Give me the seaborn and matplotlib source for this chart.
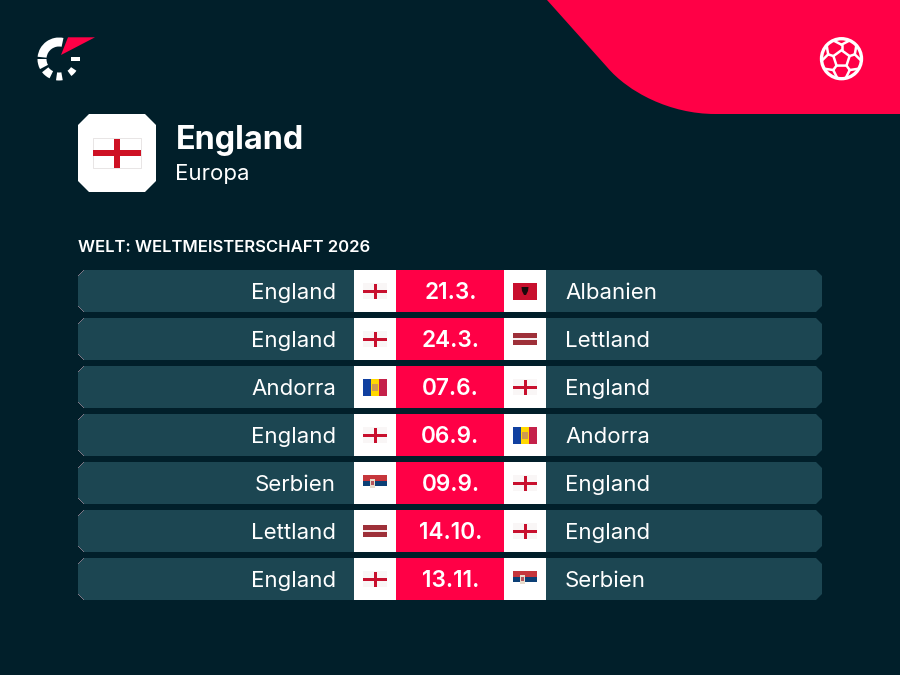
"""England - WM-Quali 2026 Spielplan"""
import numpy as np
import pandas as pd
import matplotlib
matplotlib.use("Agg")
import matplotlib.pyplot as plt
import seaborn as sns
from matplotlib.patches import Circle, Path, PathPatch, Polygon, Rectangle, Wedge

# data
home_teams = ["England", "England", "Andorra", "England", "Serbien", "Lettland", "England"]
away_teams = ["Albanien", "Lettland", "England", "Andorra", "England", "England", "Serbien"]
match_dates = ["21.3.", "24.3.", "07.6.", "06.9.", "09.9.", "14.10.", "13.11."]
home_flags = ["eng", "eng", "and", "eng", "srb", "lva", "eng"]
away_flags = ["alb", "lva", "eng", "and", "eng", "eng", "srb"]
team_name = "England"
team_region = "Europa"
competition = "WELT: WELTMEISTERSCHAFT 2026"

BG = "#011F2A"
ROW = "#1C4652"
RED = "#FF0046"
WHITE = "#FFFFFF"
FONT = "Inter"

sns.set_theme(style="white")
plt.rcParams["font.family"] = [FONT, "DejaVu Sans"]

W, H = 900, 675
fig = plt.figure(figsize=(9, 6.75), dpi=100, facecolor=BG)

# table axes: x in pixels, y in row categories
TOP, PITCH = 267, 48
n = len(match_dates)
tb = fig.add_axes([78 / W, 1 - (TOP + PITCH * n) / H, (822 - 78) / W, PITCH * n / H])
df = pd.DataFrame({"date": match_dates, "home": home_teams, "away": away_teams})
BAR = 42 / PITCH
for edge, col in [(822, ROW), (546, WHITE), (504, RED), (396, WHITE), (354, ROW)]:
    sns.barplot(data=df.assign(edge=edge), x="edge", y="date", order=match_dates, orient="h",
                color=col, saturation=1, width=BAR, linewidth=0, errorbar=None, ax=tb)
tb.set_xlim(78, 822)
tb.set_ylim(n - 0.5, -0.5)
tb.axis("off")

# chamfered row corners
C = 6
for i in range(n):
    top, bot = i - BAR / 2, i + BAR / 2
    cy = C / PITCH
    shape = Polygon([(78 + C, top), (822 - C, top), (822, top + cy), (822, bot - cy),
                     (822 - C, bot), (78 + C, bot), (78, bot - cy), (78, top + cy)],
                    transform=tb.transData)
    for bar in tb.patches[i::n]:
        bar.set_clip_path(shape)

for i, row in df.iterrows():
    tb.text(336, i + 0.05, row["home"], color=WHITE, fontsize=16, ha="right", va="center")
    tb.text(565, i + 0.05, row["away"], color=WHITE, fontsize=16, ha="left", va="center")
    tb.text(450.5, i + 0.05, row["date"], color=WHITE, fontsize=16.3, fontweight="semibold", ha="center", va="center")

# overlay in pixel coordinates
ax = fig.add_axes([0, 0, 1, 1], facecolor="none")
ax.set_xlim(0, W)
ax.set_ylim(H, 0)
ax.axis("off")
ax.set_zorder(3)


def rect(x, y, w, h, col, **kw):
    ax.add_patch(Rectangle((x, y), w, h, facecolor=col, edgecolor="none", **kw))


def draw_flag(kind, cx, cy):
    x, y = cx - 12, cy - 8.5
    if kind == "eng":
        rect(x, y + 0.5, 24, 16, "#F9F6F6")
        rect(x, cy - 1.5, 24, 3, "#C8102E")
        rect(cx - 1.5, y + 1, 3, 15, "#C8102E")
    elif kind == "alb":
        rect(x, y, 24, 17, "#C8102E")
        ax.add_patch(Polygon([(cx - 3.5, cy - 4), (cx + 3.5, cy - 4), (cx + 3, cy), (cx + 1, cy + 4),
                              (cx - 1, cy + 4), (cx - 3, cy)], facecolor="#1A0A0C", edgecolor="none"))
    elif kind == "lva":
        rect(x, cy - 6, 24, 4.6, "#9E3039")
        rect(x, cy - 1.4, 24, 2.4, "#F5EEEE")
        rect(x, cy + 1, 24, 5, "#9E3039")
    elif kind == "and":
        rect(x, y, 8, 17, "#1040A0")
        rect(x + 8, y, 8, 17, "#FFD800")
        rect(x + 16, y, 8, 17, "#C4214A")
        rect(cx - 3, cy - 3.5, 6, 7.5, "#D09A50")
    elif kind == "srb":
        rect(x, y, 24, 6, "#C6363C")
        rect(x, y + 6, 24, 5.5, "#0C4076")
        rect(cx - 5.5, cy - 4, 5, 9, "#E8DCCC")
        rect(cx - 4.5, cy - 2.5, 3, 4, "#B5555C")


for i in range(n):
    cy = TOP + PITCH * (i + 0.5)
    draw_flag(home_flags[i], 375, cy)
    draw_flag(away_flags[i], 525, cy)

# swoosh top right
verts = [(547, 0), (607, 67), (628, 92), (670, 114), (715, 114),
         (900, 114), (900, 0), (547, 0)]
codes = [Path.MOVETO, Path.LINETO, Path.CURVE4, Path.CURVE4, Path.CURVE4,
         Path.LINETO, Path.LINETO, Path.CLOSEPOLY]
ax.add_patch(PathPatch(Path(verts, codes), facecolor=RED, edgecolor="none"))

# football icon
bx, by, br = 841.5, 58.7, 20
ax.add_patch(Circle((bx, by), br, facecolor="none", edgecolor=WHITE, lw=2.4))
ang = np.deg2rad(-90 + 72 * np.arange(5))
pent = np.c_[bx + 8.5 * np.cos(ang), by + 8.5 * np.sin(ang)]
ax.add_patch(Polygon(pent, closed=True, facecolor="none", edgecolor=WHITE, lw=1.8))
for a, p in zip(ang, pent):
    mid = (bx + 14 * np.cos(a), by + 14 * np.sin(a))
    ax.plot([p[0], mid[0]], [p[1], mid[1]], color=WHITE, lw=1.8)
    for d in (-0.42, 0.42):
        ax.plot([mid[0], bx + br * np.cos(a + d)], [mid[1], by + br * np.sin(a + d)], color=WHITE, lw=1.8)

# logo
lx, ly = 59, 59
ax.add_patch(Wedge((lx, ly), 21.5, 186, 282, width=9, facecolor=WHITE, edgecolor="none"))
ax.add_patch(Wedge((lx, ly), 21.5, 152, 180, width=9, facecolor=WHITE, edgecolor="none"))
ax.add_patch(Wedge((lx, ly), 21.5, 116, 142, width=8, facecolor=WHITE, edgecolor="none"))
ax.add_patch(Wedge((lx, ly), 21.5, 80, 98, width=8, facecolor=WHITE, edgecolor="none"))
ax.add_patch(Wedge((lx, ly), 21, 34, 54, width=6.5, facecolor=WHITE, edgecolor="none"))
rect(71, 57, 9, 3.5, WHITE)
ax.add_patch(Polygon([(95, 37.3), (61, 55), (68, 37.3)], facecolor=RED, edgecolor="none"))

# team badge
s, c = 78, 11
ax.add_patch(Polygon([(s + c, 114), (156 - c, 114), (156, 114 + c), (156, 192 - c), (156 - c, 192),
                      (s + c, 192), (s, 192 - c), (s, 114 + c)], facecolor=WHITE, edgecolor="none"))
ax.add_patch(Rectangle((93, 138), 48, 30, facecolor=WHITE, edgecolor="#E4E0E0", lw=0.6))
rect(93, 150, 48, 6, "#CE1124")
rect(114, 138.5, 6, 29, "#CE1124")

ax.text(175.5, 140, team_name, color=WHITE, fontsize=23.3, fontweight="bold", ha="left", va="center")
ax.text(175, 174, team_region, color=WHITE, fontsize=16, ha="left", va="center")
ax.text(78, 248, competition, color=WHITE, fontsize=12, fontweight="semibold", ha="left", va="center")

fig.savefig("out.png", dpi=100, facecolor=BG)
plt.close(fig)
